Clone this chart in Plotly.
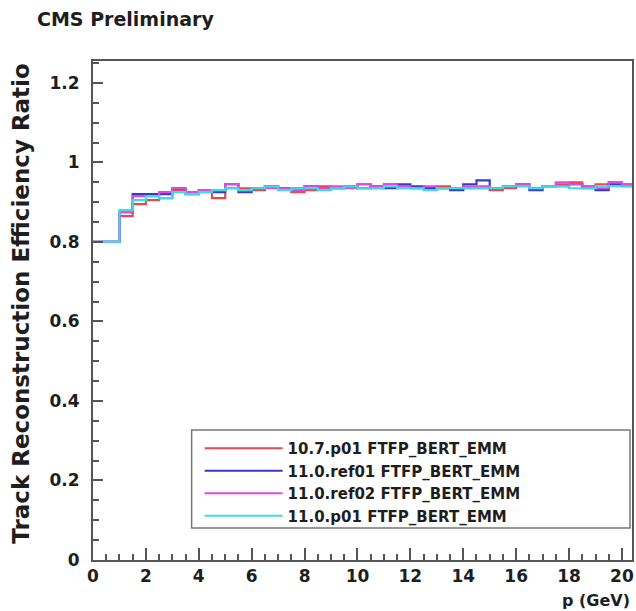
import plotly.graph_objects as go

bin_width = 0.5
n_bins = 41
edges = [i * bin_width for i in range(n_bins + 1)]

names = ["10.7.p01 FTFP_BERT_EMM", "11.0.ref01 FTFP_BERT_EMM",
         "11.0.ref02 FTFP_BERT_EMM", "11.0.p01 FTFP_BERT_EMM"]
colors = ["#e5484d", "#3a3ac4", "#e04ae0", "#3cdbe6"]

red = [0.80, 0.80, 0.865, 0.895, 0.905, 0.910, 0.930, 0.925, 0.925, 0.910,
       0.935, 0.935, 0.930, 0.940, 0.935, 0.925, 0.930, 0.940, 0.935, 0.940,
       0.945, 0.935, 0.945, 0.940, 0.935, 0.935, 0.940, 0.935, 0.935, 0.935,
       0.930, 0.935, 0.940, 0.935, 0.940, 0.945, 0.950, 0.940, 0.945, 0.950,
       0.945]
blue = [0.80, 0.80, 0.875, 0.920, 0.920, 0.920, 0.935, 0.920, 0.930, 0.925,
        0.945, 0.925, 0.935, 0.940, 0.935, 0.935, 0.940, 0.935, 0.935, 0.940,
        0.935, 0.940, 0.935, 0.945, 0.940, 0.935, 0.935, 0.930, 0.945, 0.955,
        0.935, 0.940, 0.945, 0.930, 0.940, 0.940, 0.945, 0.935, 0.930, 0.945,
        0.940]
magenta = [0.80, 0.80, 0.875, 0.915, 0.915, 0.925, 0.935, 0.925, 0.930, 0.930,
           0.945, 0.930, 0.935, 0.935, 0.935, 0.930, 0.940, 0.935, 0.940, 0.935,
           0.945, 0.940, 0.945, 0.940, 0.935, 0.940, 0.935, 0.935, 0.940, 0.940,
           0.935, 0.940, 0.945, 0.935, 0.940, 0.950, 0.945, 0.940, 0.935, 0.950,
           0.945]
cyan = [0.80, 0.80, 0.880, 0.905, 0.915, 0.910, 0.925, 0.920, 0.925, 0.930,
        0.935, 0.930, 0.935, 0.940, 0.930, 0.935, 0.935, 0.930, 0.935, 0.940,
        0.935, 0.935, 0.940, 0.935, 0.935, 0.930, 0.935, 0.935, 0.935, 0.935,
        0.935, 0.940, 0.940, 0.935, 0.940, 0.940, 0.935, 0.935, 0.940, 0.940,
        0.940]

series = [red, blue, magenta, cyan]

fig = go.Figure()
for name, col, vals in zip(names, colors, series):
    fig.add_trace(go.Scatter(
        x=edges, y=vals + [vals[-1]], mode="lines", name=name,
        line=dict(color=col, width=2.2, shape="hv")))

font_family = "DejaVu Sans, Liberation Sans, sans-serif"
txt_col = "#1e1e1e"
axis_common = dict(showgrid=False, zeroline=False, showline=True, mirror=True,
                   linecolor="#555555", linewidth=2, ticks="inside",
                   tickcolor="#555555", tickwidth=1.5,
                   tickfont=dict(family=font_family, size=17, color=txt_col,
                                 weight="bold"))

W, H = 636, 611
L, R, T, B = 93, 2, 61, 51
pw, ph = W - L - R, H - T - B

fig.update_layout(
    width=W, height=H,
    margin=dict(l=L, r=R, t=T, b=B),
    paper_bgcolor="white", plot_bgcolor="white",
    showlegend=True,
    legend=dict(x=(200 - L) / pw, y=(H - B - 432) / ph,
                xanchor="left", yanchor="top",
                bgcolor="rgba(0,0,0,0)", borderwidth=0,
                itemwidth=78, tracegroupgap=0,
                font=dict(family=font_family, size=15, color=txt_col,
                          weight="bold")),
    xaxis=dict(range=[0, 20.38], dtick=2, tick0=0, ticklen=12,
               minor=dict(dtick=0.5, ticks="inside", ticklen=6,
                          tickcolor="#555555", tickwidth=1.5),
               **axis_common),
    yaxis=dict(range=[0, 1.255], dtick=0.2, tick0=0, ticklen=10,
               ticklabelstandoff=8,
               minor=dict(dtick=0.05, ticks="inside", ticklen=6,
                          tickcolor="#555555", tickwidth=1.5),
               **axis_common),
)

# legend frame (box), drawn above the data
fig.add_shape(type="rect", xref="paper", yref="paper",
              x0=(192 - L) / pw, x1=(632 - L) / pw,
              y0=(H - B - 528) / ph, y1=(H - B - 430) / ph,
              fillcolor="white", line=dict(color="#777777", width=1.5),
              layer="above")

fig.add_annotation(text="CMS Preliminary", xref="paper", yref="paper",
                   x=(35 - L) / pw, y=1.0 + (T - 19) / ph,
                   xanchor="left", yanchor="middle", showarrow=False,
                   font=dict(family=font_family, size=19, color=txt_col,
                             weight="bold"))
fig.add_annotation(text="p (GeV)", xref="paper", yref="paper",
                   x=(634 - L) / pw, y=-(600 - (H - B)) / ph,
                   xanchor="right", yanchor="middle", showarrow=False,
                   font=dict(family=font_family, size=16, color=txt_col,
                             weight="bold"))
fig.add_annotation(text="Track Reconstruction Efficiency Ratio",
                   xref="paper", yref="paper", textangle=-90,
                   x=(20 - L) / pw, y=1.0, xanchor="center", yanchor="top",
                   showarrow=False,
                   font=dict(family=font_family, size=23, color=txt_col,
                             weight="bold"))

fig.write_html("out.html", config={"displayModeBar": False},
               post_script="document.body.style.margin='0';")
